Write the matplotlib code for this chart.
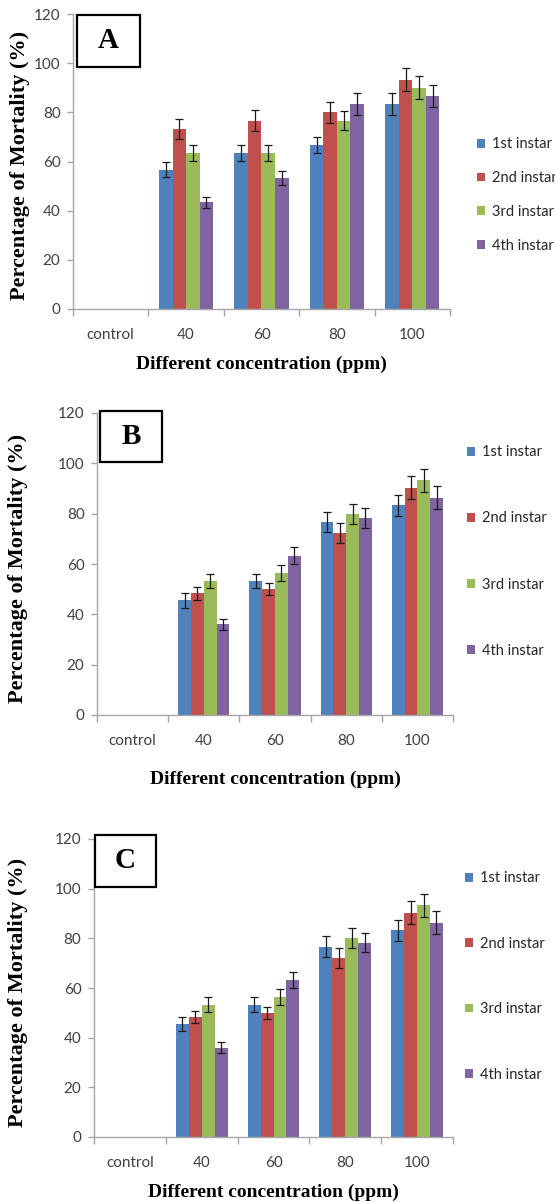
import numpy as np
import matplotlib
matplotlib.use("Agg")
import matplotlib.pyplot as plt
from matplotlib.patches import Rectangle, Patch

# ---------------- data ----------------
categories = ["control", "40", "60", "80", "100"]
series = ["1st instar", "2nd instar", "3rd instar", "4th instar"]
colors = ["#4F81BD", "#C0504D", "#9BBB59", "#8064A2"]
yticks = [0, 20, 40, 60, 80, 100, 120]

# Panel A
a_1st = [0, 56.67, 63.33, 66.67, 83.33]
a_2nd = [0, 73.33, 76.67, 80.00, 93.33]
a_3rd = [0, 63.33, 63.33, 76.67, 90.00]
a_4th = [0, 43.33, 53.33, 83.33, 86.67]
a_err_1st = [0, 3.0, 3.2, 3.2, 4.4]
a_err_2nd = [0, 4.0, 4.3, 4.2, 4.6]
a_err_3rd = [0, 3.2, 3.2, 3.9, 4.6]
a_err_4th = [0, 2.3, 2.8, 4.4, 4.5]

# Panel B
b_1st = [0, 45.5, 53.3, 76.7, 83.3]
b_2nd = [0, 48.3, 50.0, 72.2, 90.3]
b_3rd = [0, 53.3, 56.5, 80.0, 93.3]
b_4th = [0, 36.0, 63.3, 78.3, 86.3]
b_err_1st = [0, 2.8, 2.9, 4.1, 4.2]
b_err_2nd = [0, 2.5, 2.5, 4.0, 4.6]
b_err_3rd = [0, 2.9, 3.2, 4.0, 4.6]
b_err_4th = [0, 2.2, 3.3, 3.8, 4.6]

# Panel C
c_1st = [0, 45.5, 53.3, 76.7, 83.3]
c_2nd = [0, 48.3, 50.0, 72.2, 90.3]
c_3rd = [0, 53.3, 56.5, 80.0, 93.3]
c_4th = [0, 36.0, 63.3, 78.3, 86.3]
c_err_1st = [0, 2.8, 2.9, 4.1, 4.2]
c_err_2nd = [0, 2.5, 2.5, 4.0, 4.6]
c_err_3rd = [0, 2.9, 3.2, 4.0, 4.6]
c_err_4th = [0, 2.2, 3.3, 3.8, 4.6]

panel_labels = ["A", "B", "C"]
xlabel = "Different concentration (ppm)"
ylabel = "Percentage of Mortality (%)"

# ---------------- layout (pixels) ----------------
W, H = 555, 1202
fig = plt.figure(figsize=(W / 100, H / 100), dpi=100)
fig.patch.set_facecolor("white")

def fx(px):
    return px / W

def fy(py):
    return 1 - py / H

panels = [
    dict(vals=[a_1st, a_2nd, a_3rd, a_4th], errs=[a_err_1st, a_err_2nd, a_err_3rd, a_err_4th],
         left=73, right=450, y0=309, y120=14,
         box=(77, 15, 140, 67), leg_x=477, leg_top=145, leg_bot=245,
         ylab_x=20, xlab_y=364),
    dict(vals=[b_1st, b_2nd, b_3rd, b_4th], errs=[b_err_1st, b_err_2nd, b_err_3rd, b_err_4th],
         left=97, right=453, y0=715, y120=413,
         box=(100, 411, 162, 462), leg_x=467, leg_top=453, leg_bot=650,
         ylab_x=18, xlab_y=779),
    dict(vals=[c_1st, c_2nd, c_3rd, c_4th], errs=[c_err_1st, c_err_2nd, c_err_3rd, c_err_4th],
         left=94, right=453, y0=1137, y120=839,
         box=(95, 835, 156, 887), leg_x=465, leg_top=879, leg_bot=1074,
         ylab_x=18, xlab_y=1192),
]

axis_gray = "#A6A6A6"
tick_color = "#404040"
tick_font = "Lato"
bar_w = 0.18
x = np.arange(len(categories))

for p, lab in zip(panels, panel_labels):
    ax = fig.add_axes([fx(p["left"]), fy(p["y0"]),
                       (p["right"] - p["left"]) / W, (p["y0"] - p["y120"]) / H])
    for i, (vals, errs, col) in enumerate(zip(p["vals"], p["errs"], colors)):
        xs = x + (i - 1.5) * bar_w
        v = np.array(vals, dtype=float)
        e = np.array(errs, dtype=float)
        ax.bar(xs, v, width=bar_w, color=col, edgecolor="none", label=series[i], zorder=2)
        m = v > 0
        ax.errorbar(xs[m], v[m], yerr=e[m], fmt="none", ecolor="#1a1a1a",
                    elinewidth=0.9, capsize=3, capthick=0.9, zorder=3)
    ax.set_xlim(-0.5, len(categories) - 0.5)
    ax.set_ylim(0, 120)
    ax.set_yticks(yticks)
    ax.set_xticks(x)
    ax.set_xticklabels(categories)
    ax.set_xticks(np.arange(-0.5, len(categories), 1.0), minor=True)
    ax.tick_params(axis="x", which="major", length=0, pad=14,
                   labelsize=11, labelcolor=tick_color)
    ax.tick_params(axis="x", which="minor", length=5, width=1, color=axis_gray, direction="out")
    ax.tick_params(axis="y", length=4, width=1, color=axis_gray, pad=5,
                   labelsize=11, labelcolor=tick_color)
    for t in ax.get_xticklabels() + ax.get_yticklabels():
        t.set_fontfamily(tick_font)
    for s in ["top", "right"]:
        ax.spines[s].set_visible(False)
    for s in ["left", "bottom"]:
        ax.spines[s].set_color(axis_gray)
        ax.spines[s].set_linewidth(1)

    # legend
    handles = [Patch(facecolor=c, edgecolor="none") for c in colors]
    n = len(series)
    spacing_px = (p["leg_bot"] - p["leg_top"]) / (n - 1)
    fs = 10.5
    fs_px = fs * 100 / 72
    labelspacing = (spacing_px - fs_px * 0.93) / fs_px
    leg = ax.legend(handles, series, loc="center left",
                    bbox_to_anchor=(fx(p["leg_x"]), fy((p["leg_top"] + p["leg_bot"]) / 2)),
                    bbox_transform=fig.transFigure, frameon=False, borderpad=0,
                    borderaxespad=0, handlelength=0.55, handleheight=0.55,
                    handletextpad=0.5, labelspacing=labelspacing,
                    prop=dict(family=tick_font, size=fs))
    for t in leg.get_texts():
        t.set_color("#262626")

    # axis titles
    fig.text(fx(p["ylab_x"]), fy((p["y0"] + p["y120"]) / 2 + 4), ylabel, rotation=90,
             ha="center", va="center", fontsize=16, fontweight="bold",
             family="Liberation Serif")
    fig.text(fx((p["left"] + p["right"]) / 2), fy(p["xlab_y"]), xlabel,
             ha="center", va="center", fontsize=14, fontweight="bold",
             family="Liberation Serif")

    # panel letter box
    bx0, by0, bx1, by1 = p["box"]
    rect = Rectangle((fx(bx0), fy(by1)), (bx1 - bx0) / W, (by1 - by0) / H,
                     transform=fig.transFigure, facecolor="white", edgecolor="black",
                     linewidth=1.6, zorder=5)
    fig.add_artist(rect)
    fig.text(fx((bx0 + bx1) / 2), fy((by0 + by1) / 2), lab, ha="center", va="center",
             fontsize=21, fontweight="bold", family="Liberation Serif", zorder=6)

fig.savefig("out.png", dpi=100, facecolor="white")
